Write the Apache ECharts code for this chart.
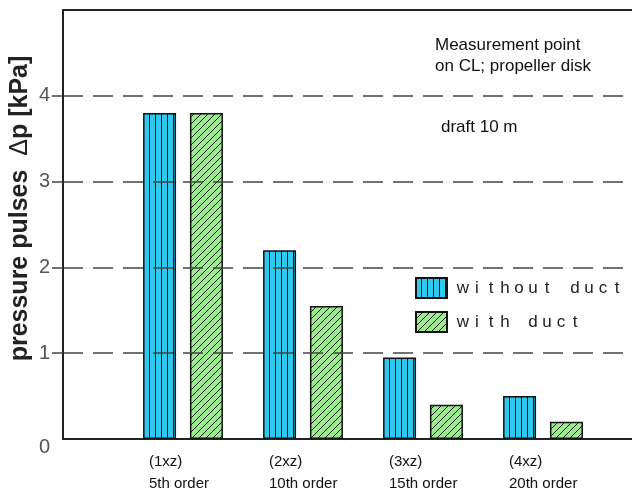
<!DOCTYPE html>
<html>
<head>
<meta charset="utf-8">
<script src="https://cdn.jsdelivr.net/npm/echarts@6/dist/echarts.min.js"></script>
<style>
html, body { margin: 0; padding: 0; background: #fff; }
#main { width: 632px; height: 492px; }
</style>
</head>
<body>
<div id="main"></div>
<script>
// data
const harmonics = ['(1xz)', '(2xz)', '(3xz)', '(4xz)'];
const orders = ['5th order', '10th order', '15th order', '20th order'];
const withoutDuct = [3.8, 2.2, 0.95, 0.5];
const withDuct = [3.8, 1.55, 0.4, 0.2];
const yTicks = [0, 1, 2, 3, 4];

const categories = harmonics.map((h, i) => h + '\n' + orders[i]);
const font = '"Liberation Sans", Arial, sans-serif';

// hatch patterns
function stripePattern() {
  const c = document.createElement('canvas');
  c.width = 6; c.height = 6;
  const ctx = c.getContext('2d');
  ctx.fillStyle = '#2fc8ef';
  ctx.fillRect(0, 0, 6, 6);
  ctx.fillStyle = '#1a1a1a';
  ctx.fillRect(5, 0, 1, 6);
  return c;
}
function diagPattern() {
  const s = 7;
  const c = document.createElement('canvas');
  c.width = s; c.height = s;
  const ctx = c.getContext('2d');
  ctx.fillStyle = '#9ceb8e';
  ctx.fillRect(0, 0, s, s);
  ctx.strokeStyle = '#1a1a1a';
  ctx.lineWidth = 1;
  ctx.beginPath();
  ctx.moveTo(-1, s + 1); ctx.lineTo(s + 1, -1);
  ctx.moveTo(-1, 1); ctx.lineTo(1, -1);
  ctx.moveTo(s - 1, s + 1); ctx.lineTo(s + 1, s - 1);
  ctx.stroke();
  return c;
}

const chart = echarts.init(document.getElementById('main'));

const option = {
  animation: false,
  backgroundColor: '#fff',
  grid: [
    { left: 63, right: 0, top: 10, bottom: 53, outerBoundsMode: 'none' },
    { left: 123, right: 29, top: 10, bottom: 53, outerBoundsMode: 'none' }
  ],
  legend: {
    orient: 'vertical',
    left: 415,
    top: 277,
    padding: 0,
    icon: 'rect',
    itemWidth: 31,
    itemHeight: 20,
    itemGap: 12,
    data: ['without duct', 'with duct'],
    formatter: function (name) {
      return name.split('').map(ch => '{c|' + ch + '}').join('');
    },
    textStyle: {
      padding: [0, 0, 0, 4],
      rich: {
        c: { width: 14, align: 'center', fontSize: 17, fontFamily: font, color: '#222' }
      }
    }
  },
  xAxis: [
    {
      type: 'value', gridIndex: 0, position: 'bottom', min: 0, max: 1,
      axisLine: { show: true, lineStyle: { color: '#222', width: 2 } },
      axisTick: { show: false }, axisLabel: { show: false }, splitLine: { show: false }
    },
    {
      type: 'value', gridIndex: 0, position: 'top', min: 0, max: 1,
      axisLine: { show: true, lineStyle: { color: '#222', width: 2 } },
      axisTick: { show: false }, axisLabel: { show: false }, splitLine: { show: false }
    },
    {
      type: 'category', gridIndex: 1, data: categories,
      axisLine: { show: false }, axisTick: { show: false },
      axisLabel: {
        interval: 0,
        margin: 12,
        formatter: function (v) {
          return v.split('\n').map(s => '{a|' + s + '}').join('\n');
        },
        rich: {
          a: { width: 68, align: 'left', fontSize: 15, lineHeight: 22, fontFamily: font, color: '#111' }
        }
      }
    }
  ],
  yAxis: [
    {
      type: 'value', gridIndex: 0, min: 0, max: 5, interval: 1, z: 3,
      name: '{b|pressure pulses  }{d|Δ}{b|p [kPa]}',
      nameLocation: 'middle',
      nameRotate: 90,
      nameGap: 30,
      nameMoveOverlap: false,
      nameTextStyle: {
        padding: [0, 0, 0, 32],
        rich: {
          b: { fontSize: 25, fontWeight: 'bold', fontFamily: font, color: '#222' },
          d: { fontSize: 25, fontWeight: 'normal', fontFamily: font, color: '#222' }
        }
      },
      axisLine: { show: true, lineStyle: { color: '#222', width: 2 } },
      axisTick: {
        show: true, length: 11, customValues: yTicks.slice(1),
        lineStyle: { color: '#444', width: 1.5 }
      },
      axisLabel: {
        margin: 13,
        showMaxLabel: false,
        fontSize: 20,
        fontFamily: font,
        color: '#555',
        formatter: function (v) { return v === 0 ? '{z|0}' : String(v); },
        rich: { z: { fontSize: 20, fontFamily: font, color: '#555', padding: [16, 0, 0, 0] } }
      },
      splitLine: {
        show: true,
        lineStyle: { color: '#444', width: 1.5, type: [20, 10] }
      }
    },
    {
      type: 'value', gridIndex: 1, min: 0, max: 5, interval: 1, show: false
    }
  ],
  graphic: [
    {
      type: 'text', left: 435, top: 35,
      style: {
        text: 'Measurement point\non CL; propeller disk',
        fontSize: 17, lineHeight: 21, fontFamily: font, fill: '#111'
      }
    },
    {
      type: 'text', left: 441, top: 117,
      style: { text: 'draft 10 m', fontSize: 17, lineHeight: 21, fontFamily: font, fill: '#111' }
    }
  ],
  series: [
    {
      name: 'without duct', type: 'bar', xAxisIndex: 2, yAxisIndex: 1,
      data: withoutDuct, barWidth: 33, barGap: '42%',
      itemStyle: { color: { image: stripePattern(), repeat: 'repeat' }, borderColor: '#111', borderWidth: 1.5 }
    },
    {
      name: 'with duct', type: 'bar', xAxisIndex: 2, yAxisIndex: 1,
      data: withDuct, barWidth: 33, barGap: '42%',
      itemStyle: { color: { image: diagPattern(), repeat: 'repeat' }, borderColor: '#111', borderWidth: 1.5 }
    }
  ]
};

chart.setOption(option);
</script>
</body>
</html>
